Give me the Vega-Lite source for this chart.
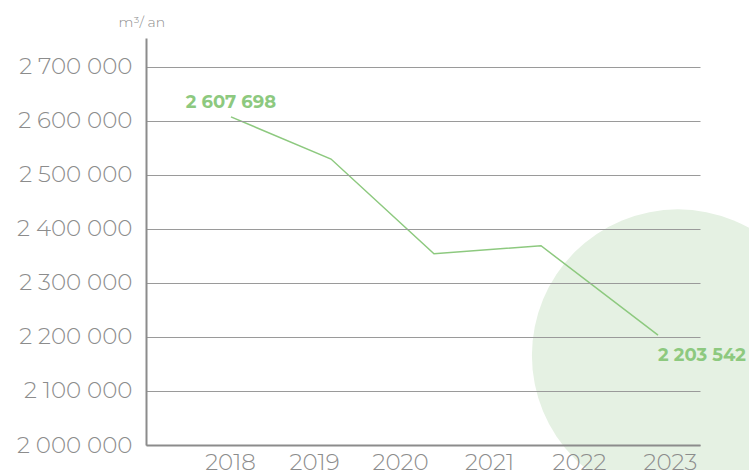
{
  "$schema": "https://vega.github.io/schema/vega-lite/v6.json",
  "width": 554,
  "height": 407,
  "autosize": {"type": "none"},
  "padding": {"left": 146, "top": 38, "right": 49, "bottom": 25},
  "config": {
    "locale": {"number": {"decimal": ",", "thousands": " ", "grouping": [3], "currency": ["", " €"]}},
    "view": {"stroke": null},
    "font": "Montserrat, Inter, sans-serif"
  },
  "datasets": {
    "conso": [
      {"position": 2018.011, "volume": 2607698},
      {"position": 2019.148, "volume": 2529500},
      {"position": 2020.318, "volume": 2354000},
      {"position": 2021.534, "volume": 2369000},
      {"position": 2022.864, "volume": 2203542}
    ],
    "cercle": [
      {"position": 2023.09, "volume": 2166000}
    ]
  },
  "encoding": {
    "x": {
      "field": "position",
      "type": "quantitative",
      "scale": {"domain": [2017.0455, 2023.341], "nice": false, "zero": false},
      "axis": {
        "values": [2018, 2018.955, 2019.932, 2020.943, 2021.966, 2023],
        "labelExpr": "format(round(datum.value), 'd')",
        "title": null,
        "grid": false,
        "ticks": false,
        "domainColor": "#8c8c8c",
        "domainWidth": 2,
        "labelFontSize": 23,
        "labelFontWeight": 300,
        "labelColor": "#8c8c8c",
        "labelPadding": 6,
        "zindex": 1
      }
    },
    "y": {
      "field": "volume",
      "type": "quantitative",
      "scale": {"domain": [2000000, 2753700], "nice": false, "zero": false},
      "axis": {
        "values": [2000000, 2100000, 2200000, 2300000, 2400000, 2500000, 2600000, 2700000],
        "format": ",d",
        "grid": true,
        "gridColor": "#9a9a9a",
        "gridWidth": 1,
        "ticks": false,
        "domainColor": "#8c8c8c",
        "domainWidth": 2,
        "labelFontSize": 23,
        "labelFontWeight": 300,
        "labelColor": "#8c8c8c",
        "labelPadding": 14,
        "title": "m³/ an",
        "titleAngle": 0,
        "titleX": -28,
        "titleY": -12,
        "titleAlign": "left",
        "titleBaseline": "alphabetic",
        "titleFontSize": 14,
        "titleFontWeight": 300,
        "titleColor": "#8c8c8c",
        "zindex": 1
      }
    }
  },
  "layer": [
    {
      "data": {"name": "cercle"},
      "mark": {"type": "circle", "size": 85264, "color": "#e5f1e3", "opacity": 1, "clip": false}
    },
    {
      "data": {"name": "conso"},
      "mark": {"type": "line", "color": "#8dc97f", "strokeWidth": 1.5}
    },
    {
      "data": {"name": "conso"},
      "transform": [{"filter": "datum.position < 2018.5"}],
      "mark": {"type": "text", "color": "#8dc97f", "fontSize": 18, "fontWeight": "bold", "align": "center", "baseline": "alphabetic", "dy": -9},
      "encoding": {"text": {"field": "volume", "type": "quantitative", "format": ",d"}}
    },
    {
      "data": {"name": "conso"},
      "transform": [{"filter": "datum.position > 2022.5"}],
      "mark": {"type": "text", "color": "#8dc97f", "fontSize": 18, "fontWeight": "bold", "align": "center", "baseline": "alphabetic", "dx": 44, "dy": 26, "clip": false},
      "encoding": {"text": {"field": "volume", "type": "quantitative", "format": ",d"}}
    }
  ]
}
